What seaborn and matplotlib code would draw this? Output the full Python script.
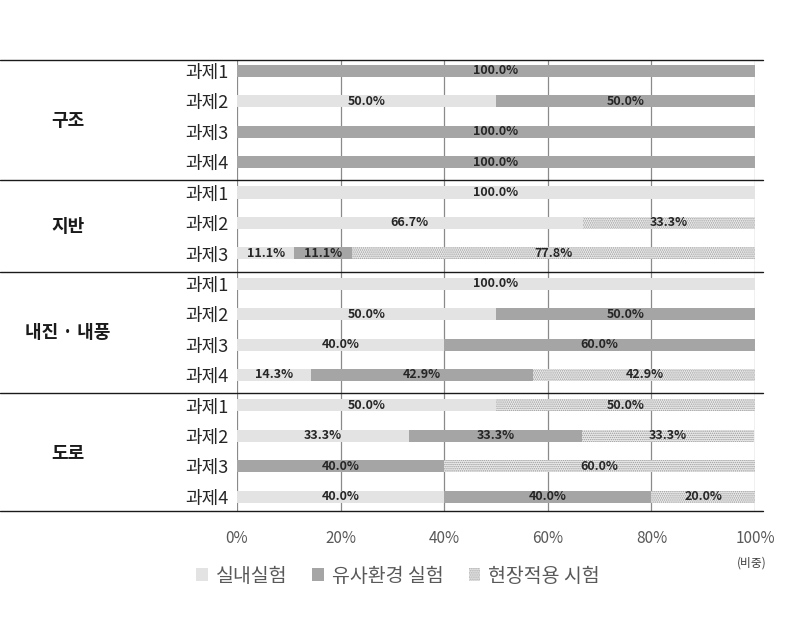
import matplotlib
matplotlib.use("Agg")
import matplotlib.pyplot as plt
import matplotlib.transforms as mtransforms
import seaborn as sns
import pandas as pd
import numpy as np
from matplotlib.patches import Patch

groups = ["구조", "지반", "내진 · 내풍", "도로"]
group_sizes = [4, 3, 4, 4]
tasks = ["과제1", "과제2", "과제3", "과제4",
         "과제1", "과제2", "과제3",
         "과제1", "과제2", "과제3", "과제4",
         "과제1", "과제2", "과제3", "과제4"]
indoor = [0, 50.0, 0, 0,
          100.0, 66.7, 11.1,
          100.0, 50.0, 40.0, 14.3,
          50.0, 33.3, 0, 40.0]
similar = [100.0, 50.0, 100.0, 100.0,
           0, 0, 11.1,
           0, 50.0, 60.0, 42.9,
           0, 33.3, 40.0, 40.0]
field = [0, 0, 0, 0,
         0, 33.3, 77.8,
         0, 0, 0, 42.9,
         50.0, 33.3, 60.0, 20.0]
series_names = ["실내실험", "유사환경 실험", "현장적용 시험"]
xticks = [0, 20, 40, 60, 80, 100]

sns.set_theme(style="white")
plt.rcParams['font.family'] = ['Noto Sans CJK KR', 'DejaVu Sans']
plt.rcParams['hatch.linewidth'] = 0.7

c_light = "#e3e3e3"
c_dark = "#a5a5a5"
c_field_face = "#ececec"
c_field_hatch = "#9a9a9a"
field_hatch = "........"

n = len(tasks)
rows = [f"r{i}" for i in range(n)]
ind = np.array(indoor); sim = np.array(similar); fld = np.array(field)
df = pd.DataFrame({"row": rows, "c1": ind, "c2": ind + sim, "c3": ind + sim + fld})

fig = plt.figure(figsize=(7.91, 6.17), dpi=100)
ax = fig.add_axes([0.2996, 0.1718, 0.6549, 0.731])

bw = 0.4
sns.barplot(data=df, x="c3", y="row", order=rows, orient="h", color=c_field_face,
            width=bw, ax=ax, saturation=1, errorbar=None)
for p in ax.patches:
    p.set_hatch(field_hatch)
    p.set_edgecolor(c_field_hatch)
    p.set_linewidth(0)
npat = len(ax.patches)
sns.barplot(data=df, x="c2", y="row", order=rows, orient="h", color=c_dark,
            width=bw, ax=ax, saturation=1, errorbar=None)
sns.barplot(data=df, x="c1", y="row", order=rows, orient="h", color=c_light,
            width=bw, ax=ax, saturation=1, errorbar=None)
for p in ax.patches[npat:]:
    p.set_linewidth(0)

for i in range(n):
    starts = [0, ind[i], ind[i] + sim[i]]
    vals = [ind[i], sim[i], fld[i]]
    for s, v in zip(starts, vals):
        if v > 0:
            ax.text(s + v / 2, i, f"{v:.1f}%", ha="center", va="center",
                    fontsize=9, fontweight="bold", color="#262626")

top_px, bot_px = 60, 511
first_c, step = 71, 30.4
ax.set_ylim(14 + (bot_px - (first_c + 14 * step)) / step, -(first_c - top_px) / step)
ax.set_xlim(0, 100)
ax.set_xticks(xticks)
ax.set_xticklabels([f"{t}%" for t in xticks], color="#595959", fontsize=11)
ax.tick_params(axis="x", pad=14, length=0)
ax.set_yticks(range(n))
ax.set_yticklabels(tasks, fontsize=13, color="#262626")
ax.tick_params(axis="y", pad=6, length=0)
ax.set_xlabel("")
ax.set_ylabel("")
for sp in ax.spines.values():
    sp.set_visible(False)
for t in xticks:
    ax.axvline(t, color="#8a8a8a", lw=0.9, zorder=0)

trans = mtransforms.blended_transform_factory(ax.transAxes, ax.transData)
x0 = -237 / 518
x1 = (763 - 237) / 518
ytop = ax.get_ylim()[1]
ybot = ax.get_ylim()[0]
bounds = [ytop]
acc = 0
for s in group_sizes[:-1]:
    acc += s
    bounds.append(acc - 0.4)
bounds.append(ybot)
for b in bounds:
    ax.plot([x0, x1], [b, b], transform=trans, color="#1a1a1a", lw=1.0, clip_on=False)

for k, g in enumerate(groups):
    yc = (bounds[k] + bounds[k + 1]) / 2
    ax.text((68 - 237) / 518, yc, g, transform=trans, ha="center", va="center",
            fontsize=13, fontweight="bold", color="#1a1a1a")

handles = [Patch(facecolor=c_light, edgecolor="none"),
           Patch(facecolor=c_dark, edgecolor="none"),
           Patch(facecolor=c_field_face, edgecolor=c_field_hatch, hatch=field_hatch, linewidth=0)]
leg = fig.legend(handles, series_names, loc="center", bbox_to_anchor=(398 / 791, 1 - 576 / 617),
                 ncol=3, frameon=False, fontsize=14, handlelength=0.6, handleheight=0.6,
                 handletextpad=0.4, columnspacing=1.3)
for t in leg.get_texts():
    t.set_color("#595959")

fig.text(752 / 791, 1 - 563 / 617, "(비중)", ha="center", va="center", fontsize=8.5, color="#404040")

fig.savefig("out.png", dpi=100)
